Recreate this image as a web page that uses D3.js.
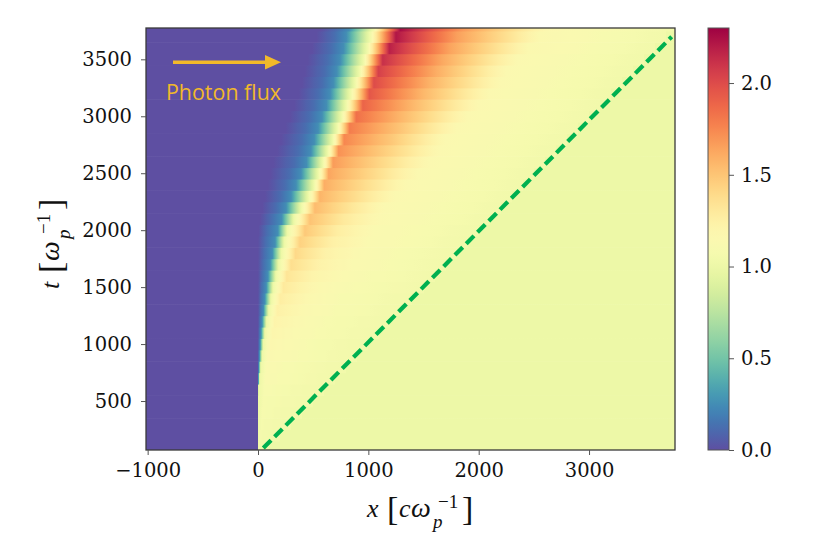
<!DOCTYPE html>
<html><head><meta charset="utf-8">
<script src="https://cdn.jsdelivr.net/npm/d3@7"></script>
<style>body{margin:0;background:#fff} svg{display:block}</style>
</head><body>
<svg id="chart" width="828" height="551"></svg>
<script>
// ---------- data ----------
const xTicks = [-1000, 0, 1000, 2000, 3000];
const tTicks = [500, 1000, 1500, 2000, 2500, 3000, 3500];
const cTicks = [0, 0.5, 1.0, 1.5, 2.0];
const xDomain = [-1015, 3779];
const tDomain = [70, 3775];
const cDomain = [0, 2.3];
const rowHeight = 100;

// one entry per time row (centre of row)
const rowT = [100,200,300,400,500,600,700,800,900,1000,1100,1200,1300,1400,1500,1600,1700,1800,1900,2000,
              2100,2200,2300,2400,2500,2600,2700,2800,2900,3000,3100,3200,3300,3400,3500,3600,3700,3800];
// x where density leaves 0 (end of purple)
const edgeX0 = [0,0,0,0,0,0,0,0,0,0,0,0,0,0,0,0,0,0,0,5,
                20,40,65,90,115,140,175,210,250,290,330,370,400,425,450,490,530,570];
// x where density = 0.12 (slate blue)
const edgeXq = [0,0,0,0,0,0,1,3,5,8,11,15,20,25,30,38,46,55,67,80,
                120,165,205,245,285,330,365,395,430,465,505,545,580,605,627,660,690,715];
// x where density = 0.25 (blue)
const edgeX1 = [0,0,0,0,0,0,3,7,13,20,28,38,50,62,75,90,110,130,155,180,
                215,255,300,345,390,440,480,510,545,580,620,655,685,715,745,775,800,825];
// x where density = 1.0 (front)
const edgeX2 = [0,0,0,0,0,5,15,25,38,48,62,78,97,117,137,162,187,212,238,265,
                325,390,455,505,545,585,630,675,715,755,795,835,875,915,952,985,1010,1035];
// compression peak
const peakX = [10,20,30,40,50,60,70,80,95,110,130,150,175,200,230,260,300,340,380,425,
               470,515,560,600,640,680,730,780,830,890,950,1010,1050,1090,1130,1190,1250,1290];
const peakV = [1.05,1.06,1.07,1.08,1.08,1.1,1.12,1.13,1.15,1.17,1.19,1.21,1.24,1.27,1.3,1.33,1.37,1.4,1.44,1.48,
               1.51,1.54,1.57,1.6,1.63,1.67,1.71,1.75,1.79,1.84,1.89,1.95,2.0,2.05,2.12,2.18,2.22,2.26];
// decay behind the peak
const midX = [30,60,90,120,150,180,200,230,260,300,330,360,400,440,480,520,570,620,670,720,
              780,850,920,980,1040,1100,1160,1220,1290,1360,1430,1500,1560,1620,1670,1740,1800,1850];
const midV = [1.05,1.05,1.06,1.07,1.07,1.08,1.1,1.1,1.12,1.13,1.14,1.15,1.16,1.17,1.18,1.2,1.22,1.23,1.25,1.27,
              1.3,1.32,1.35,1.37,1.4,1.42,1.45,1.48,1.5,1.52,1.54,1.56,1.58,1.6,1.62,1.64,1.66,1.68];
const tailX = [60,120,180,240,300,350,400,450,500,550,600,650,700,750,800,850,900,950,1000,1050,
               1100,1150,1250,1350,1450,1550,1650,1700,1800,1900,2000,2100,2200,2250,2350,2450,2550,2600];
const tailV = [1.04,1.04,1.05,1.05,1.06,1.06,1.07,1.07,1.08,1.08,1.09,1.09,1.1,1.1,1.11,1.12,1.13,1.13,1.14,1.14,
               1.15,1.15,1.15,1.15,1.15,1.15,1.15,1.15,1.15,1.15,1.15,1.15,1.15,1.15,1.15,1.16,1.16,1.17];
const lightConeV = 1.04;   // just behind x = t
const backgroundV = 1.0;   // unperturbed plasma ahead of x = t
const guideLine = [[48, 87], [3749, 3698]];

// ---------- layout ----------
const P = {left: 146, right: 675, top: 28, bottom: 450};
const CB = {left: 708, right: 729, top: 28, bottom: 450};
const svg = d3.select("#chart");
const x = d3.scaleLinear().domain(xDomain).range([P.left, P.right]);
const y = d3.scaleLinear().domain(tDomain).range([P.bottom, P.top]);
const cY = d3.scaleLinear().domain(cDomain).range([CB.bottom, CB.top]);
const color = v => d3.interpolateSpectral(1 - Math.max(0, Math.min(1, (v - cDomain[0]) / (cDomain[1] - cDomain[0]))));

const defs = svg.append("defs");
defs.append("clipPath").attr("id", "plotclip").append("rect")
  .attr("x", P.left).attr("y", P.top).attr("width", P.right - P.left).attr("height", P.bottom - P.top);

// ---------- heat map rows ----------
const rows = rowT.map((t, i) => {
  const cl = v => Math.min(v, t);
  const pts = [
    [xDomain[0], 0], [edgeX0[i], 0], [edgeXq[i], 0.12], [edgeX1[i], 0.25], [edgeX2[i], 1.0],
    [cl(peakX[i]), peakV[i]], [cl(midX[i]), midV[i]], [cl(tailX[i]), tailV[i]],
    [t, lightConeV], [t, backgroundV], [xDomain[1], backgroundV]
  ];
  return {t, pts};
});

const x0p = x(xDomain[0]), x1p = x(xDomain[1]);
const gLayer = svg.append("g").attr("clip-path", "url(#plotclip)");
rows.forEach((r, i) => {
  const grad = defs.append("linearGradient").attr("id", "row" + i)
    .attr("gradientUnits", "userSpaceOnUse")
    .attr("x1", x0p).attr("x2", x1p).attr("y1", 0).attr("y2", 0);
  const stops = [];
  for (let k = 0; k < r.pts.length - 1; k++) {
    const [xa, va] = r.pts[k], [xb, vb] = r.pts[k + 1];
    const n = (xb > xa && va !== vb) ? 8 : 1;
    for (let s = 0; s <= n; s++) {
      const f = s / n;
      const xv = Math.max(xDomain[0], Math.min(xDomain[1], xa + (xb - xa) * f));
      stops.push([(x(xv) - x0p) / (x1p - x0p), color(va + (vb - va) * f)]);
    }
  }
  let last = 0;
  stops.forEach(([o, c]) => {
    last = Math.max(last, o);
    grad.append("stop").attr("offset", last).attr("stop-color", c);
  });
  gLayer.append("rect")
    .attr("x", x0p).attr("width", x1p - x0p)
    .attr("y", y(r.t + rowHeight / 2)).attr("height", y(r.t - rowHeight / 2) - y(r.t + rowHeight / 2) + 0.6)
    .attr("fill", "url(#row" + i + ")");
});

// guide line x = c t
gLayer.append("line")
  .attr("x1", x(guideLine[0][0])).attr("y1", y(guideLine[0][1]))
  .attr("x2", x(guideLine[1][0])).attr("y2", y(guideLine[1][1]))
  .attr("stroke", "#00b050").attr("stroke-width", 4.2).attr("stroke-dasharray", "11,5");

// frame
svg.append("rect").attr("x", P.left).attr("y", P.top)
  .attr("width", P.right - P.left).attr("height", P.bottom - P.top)
  .attr("fill", "none").attr("stroke", "#3a3a3a").attr("stroke-width", 1.3);

// ---------- axes ----------
const tickFont = "'DejaVu Serif', serif";
const xa = svg.append("g").attr("transform", `translate(0,${P.bottom})`)
  .call(d3.axisBottom(x).tickValues(xTicks).tickSize(5).tickPadding(8).tickFormat(d3.format("d")));
const ya = svg.append("g").attr("transform", `translate(${P.left},0)`)
  .call(d3.axisLeft(y).tickValues(tTicks).tickSize(5).tickPadding(9).tickFormat(d3.format("d")));
[xa, ya].forEach(g => {
  g.select(".domain").remove();
  g.selectAll(".tick line").attr("stroke", "#555").attr("stroke-width", 1);
  g.selectAll(".tick text").attr("font-family", tickFont).attr("font-size", 19.5).attr("fill", "#111");
});

// ---------- colour bar ----------
const cgrad = defs.append("linearGradient").attr("id", "cbar")
  .attr("x1", 0).attr("y1", 1).attr("x2", 0).attr("y2", 0);
d3.range(0, 61).forEach(k => {
  const f = k / 60;
  cgrad.append("stop").attr("offset", f).attr("stop-color", color(cDomain[0] + f * (cDomain[1] - cDomain[0])));
});
svg.append("rect").attr("x", CB.left).attr("y", CB.top)
  .attr("width", CB.right - CB.left).attr("height", CB.bottom - CB.top)
  .attr("fill", "url(#cbar)").attr("stroke", "#555").attr("stroke-width", 1);
const ca = svg.append("g").attr("transform", `translate(${CB.right},0)`)
  .call(d3.axisRight(cY).tickValues(cTicks).tickSize(5).tickPadding(7).tickFormat(d3.format(".1f")));
ca.select(".domain").remove();
ca.selectAll(".tick line").attr("stroke", "#555");
ca.selectAll(".tick text").attr("font-family", tickFont).attr("font-size", 19.5).attr("fill", "#111");

// ---------- axis labels ----------
const mathFont = "'Liberation Serif', 'Times New Roman', serif";
function piece(g, txt, px, py, size, italic) {
  g.append("text").attr("x", px).attr("y", py).text(txt)
    .attr("font-family", mathFont).attr("font-size", size)
    .attr("font-style", italic ? "italic" : "normal").attr("fill", "#111");
}
// x label
const xl = svg.append("g");
piece(xl, "x", 367, 517, 26, true);
piece(xl, "[", 387, 520, 34, false);
piece(xl, "c", 399, 517, 26, true);
piece(xl, "ω", 411, 517, 28, true);
piece(xl, "p", 433, 528, 19, true);
piece(xl, "−1", 438, 508, 19, false);
piece(xl, "]", 462, 520, 34, false);
// y label (rotated)
const yl = svg.append("g").attr("transform", "translate(59,289) rotate(-90)");
piece(yl, "t", 0, 0, 26, true);
piece(yl, "[", 16, 3, 34, false);
piece(yl, "ω", 28, 0, 28, true);
piece(yl, "p", 50, 11, 19, true);
piece(yl, "−1", 55, -9, 19, false);
piece(yl, "]", 79, 3, 34, false);

// ---------- annotation ----------
const gold = "#f2b92a";
svg.append("line").attr("x1", 173).attr("x2", 267).attr("y1", 62.3).attr("y2", 62.3)
  .attr("stroke", gold).attr("stroke-width", 3.6);
svg.append("path").attr("d", "M265,55 L281,62.3 L265,69.6 Z").attr("fill", gold);
svg.append("text").attr("x", 166).attr("y", 100).text("Photon flux")
  .attr("font-family", "'Open Sans', sans-serif").attr("font-size", 22)
  .attr("textLength", 115).attr("lengthAdjust", "spacingAndGlyphs").attr("fill", gold);
</script>
</body></html>
